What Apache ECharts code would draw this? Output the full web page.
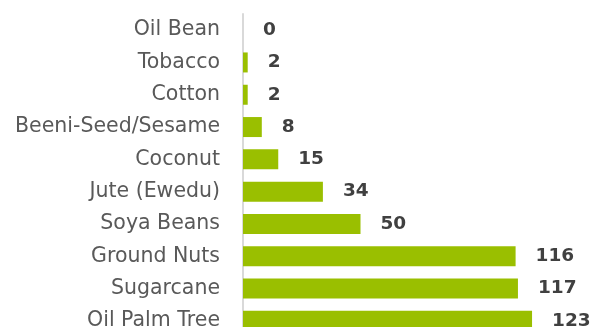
<!DOCTYPE html>
<html>
<head>
<meta charset="utf-8">
<script src="https://cdn.jsdelivr.net/npm/echarts@6/dist/echarts.min.js"></script>
<style>
html,body{margin:0;padding:0;background:#fff;}
#c{width:595px;height:327px;}
</style>
</head>
<body>
<div id="c"></div>
<script>
const categories = ["Oil Bean","Tobacco","Cotton","Beeni-Seed/Sesame","Coconut","Jute (Ewedu)","Soya Beans","Ground Nuts","Sugarcane","Oil Palm Tree"];
const values = [0,2,2,8,15,34,50,116,117,123];

const chart = echarts.init(document.getElementById('c'), null, {renderer:'canvas'});
chart.setOption({
  animation:false,
  backgroundColor:'#ffffff',
  grid:{left:243, top:14, width:329, height:323, containLabel:false, outerBoundsMode:'none'},
  xAxis:{type:'value', min:0, max:140, show:false},
  yAxis:{
    type:'category', data:categories, inverse:true,
    axisLine:{show:true, lineStyle:{color:'#d9d9d9', width:2}},
    axisTick:{show:false},
    axisLabel:{color:'#595959', fontFamily:'DejaVu Sans', fontSize:20.5, margin:23}
  },
  series:[{
    type:'bar', data:values, barWidth:20,
    itemStyle:{color:'#9abf00'},
    label:{show:true, position:'right', distance:20, color:'#404040',
      fontFamily:'DejaVu Sans', fontWeight:'bold', fontSize:18.5}
  }]
});
</script>
</body>
</html>
